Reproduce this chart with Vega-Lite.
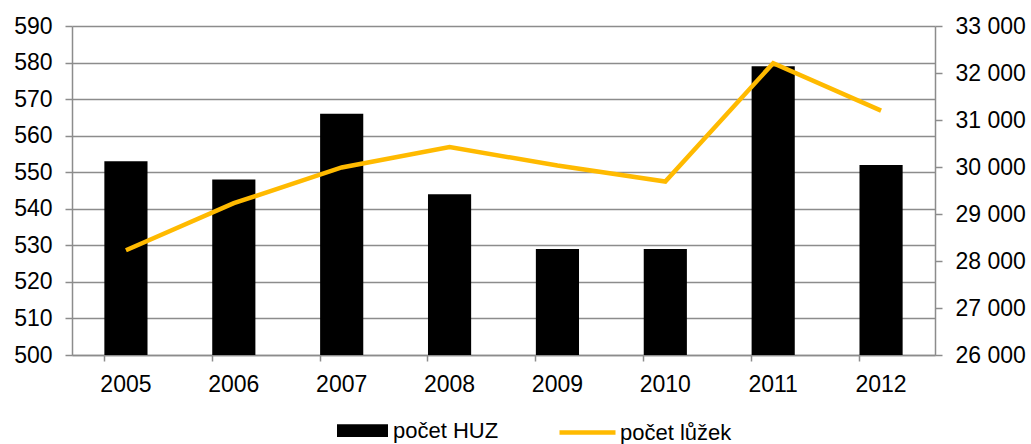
{
  "$schema": "https://vega.github.io/schema/vega-lite/v6.json",
  "width": 863,
  "height": 329,
  "autosize": {"type": "none"},
  "padding": {"left": 72, "top": 26, "right": 96, "bottom": 89},
  "background": "white",
  "config": {
    "view": {"stroke": null},
    "font": "Liberation Sans",
    "axis": {"labelFont": "Liberation Sans", "labelFontSize": 23, "labelColor": "black", "domainColor": "#8c8c8c", "tickColor": "#8c8c8c", "gridColor": "#8c8c8c", "domainWidth": 1.5, "tickWidth": 1.5, "gridWidth": 1.5},
    "legend": {"labelFont": "Liberation Sans", "labelFontSize": 22, "labelColor": "black"}
  },
  "data": {
    "values": [
      {"rok": "2005", "huz": 553, "luzka": 28230},
      {"rok": "2006", "huz": 548, "luzka": 29230},
      {"rok": "2007", "huz": 566, "luzka": 29990},
      {"rok": "2008", "huz": 544, "luzka": 30425},
      {"rok": "2009", "huz": 529, "luzka": 30030},
      {"rok": "2010", "huz": 529, "luzka": 29690},
      {"rok": "2011", "huz": 579, "luzka": 32210},
      {"rok": "2012", "huz": 552, "luzka": 31200}
    ]
  },
  "encoding": {
    "x": {
      "field": "rok", "type": "nominal", "title": null,
      "scale": {"paddingInner": 0.6, "paddingOuter": 0.3},
      "axis": {"labelAngle": 0, "bandPosition": 0, "tickSize": 6, "labelPadding": 12, "grid": false}
    }
  },
  "layer": [
    {
      "mark": {"type": "bar", "clip": true},
      "encoding": {
        "y": {
          "field": "huz", "type": "quantitative", "title": null,
          "scale": {"domain": [500, 590], "zero": false, "nice": false},
          "axis": {"values": [500,510,520,530,540,550,560,570,580,590], "grid": true, "tickSize": 7, "labelPadding": 13, "orient": "left"}
        },
        "fill": {
          "datum": "počet HUZ", "type": "nominal",
          "scale": {"range": ["black"]},
          "legend": {"orient": "none", "legendX": 265, "legendY": 379, "title": null, "symbolType": "M-1,-0.25H1V0.25H-1Z", "symbolSize": 2601, "symbolStrokeWidth": 0, "labelOffset": 5}
        }
      }
    },
    {
      "mark": {"type": "line", "strokeWidth": 4.5, "strokeJoin": "miter"},
      "encoding": {
        "y": {
          "field": "luzka", "type": "quantitative", "title": null,
          "scale": {"domain": [26000, 33000], "zero": false, "nice": false},
          "axis": {"orient": "right", "values": [26000,27000,28000,29000,30000,31000,32000,33000], "format": ",d", "labelExpr": "replace(datum.label, ',', ' ')", "grid": false, "tickSize": 7, "labelPadding": 13}
        },
        "stroke": {
          "datum": "počet lůžek", "type": "nominal",
          "scale": {"range": ["#FFBA00"]},
          "legend": {"orient": "none", "legendX": 485, "legendY": 376, "title": null, "symbolType": "stroke", "symbolSize": 3136, "symbolStrokeWidth": 4.5, "labelOffset": 2}
        }
      }
    }
  ],
  "resolve": {"scale": {"y": "independent"}}
}
